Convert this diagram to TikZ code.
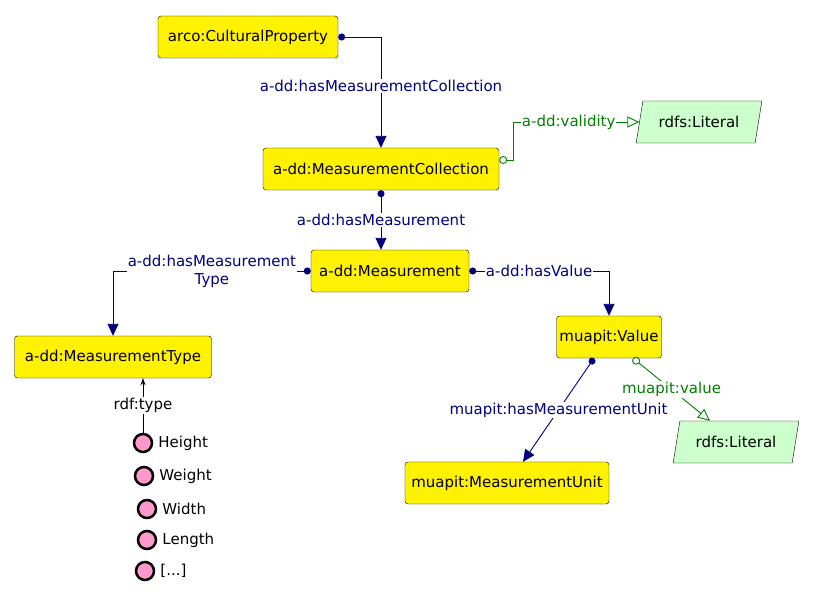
\documentclass[tikz,border=0pt]{standalone}
\usepackage{fontspec}
\setmainfont{DejaVu Sans}
\usetikzlibrary{arrows.meta,positioning,shapes.geometric}

\definecolor{navy}{RGB}{0,0,128}
\definecolor{dgreen}{RGB}{0,128,0}
\definecolor{litgreen}{RGB}{204,255,204}
\definecolor{indpink}{RGB}{255,153,204}

\tikzset{
	klasse/.style={draw=black, fill=yellow, rounded corners=3pt, minimum height=42pt, inner xsep=2pt, font=\fontsize{15}{18}\selectfont},
	literal/.style={trapezium, trapezium left angle=74, trapezium right angle=106, trapezium stretches=true, draw=black, fill=litgreen, minimum width=126pt, minimum height=42pt, font=\fontsize{15}{18}\selectfont},
	indiv/.style={circle, draw=black, line width=2.5pt, fill=indpink, minimum size=18pt, inner sep=0pt},
	indlabel/.style={font=\fontsize{15}{18}\selectfont, inner sep=2pt},
	elabel/.style={fill=white, inner sep=1pt, font=\fontsize{15}{18}\selectfont},
	objprop/.style={draw=navy, line width=0.9pt, {Circle[length=7pt]}-{Triangle[length=12pt,width=11pt]}},
	dataprop/.style={draw=dgreen, line width=0.9pt, {Circle[open,length=8pt]}-{Triangle[open,length=12pt,width=11pt]}}
}

\begin{document}
\begin{tikzpicture}[x=1pt, y=-1pt]
\useasboundingbox (0,0) rectangle (813,599);

%% Klassen
\node[klasse, minimum width=180pt] (cp) at (248,37) {arco:CulturalProperty};
\node[klasse, minimum width=236pt] (mcoll) at (381,169) {a-dd:MeasurementCollection};
\node[klasse, minimum width=158pt] (meas) at (390,271) {a-dd:Measurement};
\node[klasse, minimum width=197pt] (mtype) at (113,357) {a-dd:MeasurementType};
\node[klasse, minimum width=105pt] (val) at (609,337) {muapit:Value};
\node[klasse, minimum width=204pt] (munit) at (507,483) {muapit:MeasurementUnit};

%% Literale
\node[literal] (lit1) at (699,122) {rdfs:Literal};
\node[literal] (lit2) at (736,442) {rdfs:Literal};

%% Individuen
\node[indiv] (height) at (143,443) {};
\node[indiv] (weight) at (144,476) {};
\node[indiv] (width) at (147,509) {};
\node[indiv] (length) at (147,540) {};
\node[indiv] (more) at (145,571) {};
\node[indlabel, right=3pt of height] (heightl) {Height};
\node[indlabel, right=3pt of weight] (weightl) {Weight};
\node[indlabel, right=3pt of width] (widthl) {Width};
\node[indlabel, right=3pt of length] (lengthl) {Length};
\node[indlabel, right=3pt of more] (morel) {[...]};
%%%%%%%%%%%%%%%%

%% Kanten
\draw[objprop] (cp.east) -| node[elabel, pos=0.72, text=navy] {a-dd:hasMeasurementCollection} (mcoll.north);
\draw[dataprop] ([yshift=9pt]mcoll.east) -- ++(14,0) |- node[elabel, pos=0.72, text=dgreen] {a-dd:validity} (lit1.west);
\draw[objprop] (mcoll.south) -- node[elabel, text=navy] {a-dd:hasMeasurement} (mcoll.south |- meas.north);
\draw[objprop] (meas.west) -| node[elabel, pos=0.25, align=center, text=navy] {a-dd:hasMeasurement\\Type} (mtype.north);
\draw[objprop] (meas.east) -| node[elabel, pos=0.25, text=navy] {a-dd:hasValue} (val.north);
\draw[objprop] ([xshift=-15pt]val.south) -- node[elabel, text=navy] {muapit:hasMeasurementUnit} ([xshift=16pt]munit.north);
\draw[dataprop] ([xshift=24pt]val.south) -- node[elabel, text=dgreen] {muapit:value} ([xshift=-26pt]lit2.north);

%% rdf:type
\draw[line width=0.8pt, -{Stealth[length=7pt,width=5pt]}] (height.north) -- node[elabel] {rdf:type} (height.north |- mtype.south);

\end{tikzpicture}
\end{document}
